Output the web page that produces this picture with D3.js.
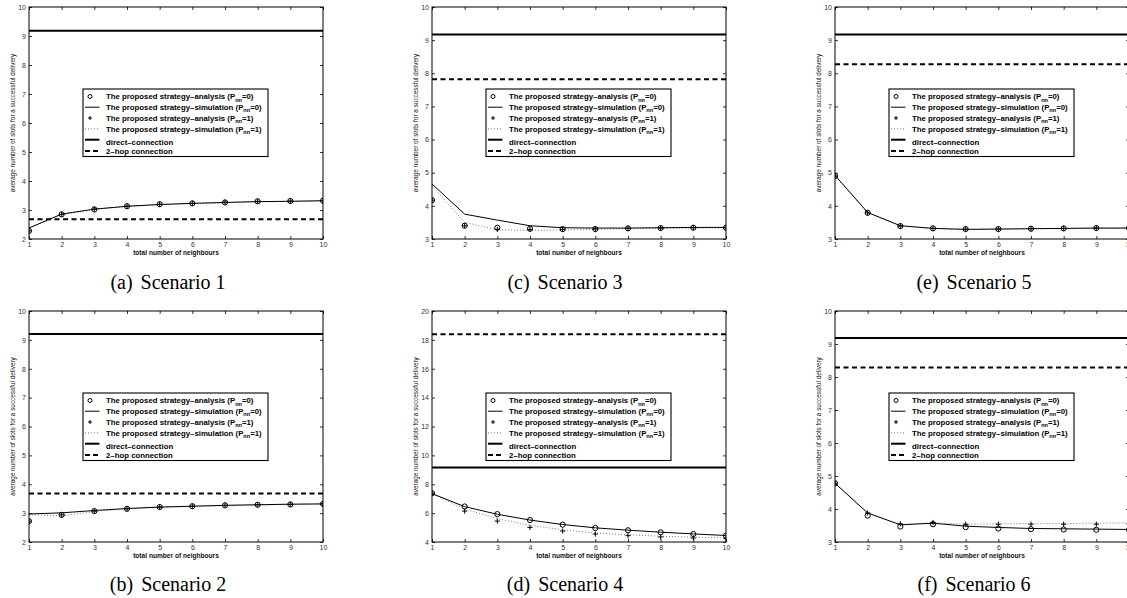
<!DOCTYPE html>
<html><head><meta charset="utf-8">
<script src="https://cdn.jsdelivr.net/npm/d3@7"></script>
<style>
html,body{margin:0;padding:0;background:#fff;}
svg{display:block;}
</style></head>
<body>
<svg id="chart" width="1127" height="598"></svg>
<script>
// ---------- data ----------
const neighbours = [1, 2, 3, 4, 5, 6, 7, 8, 9, 10];
const captions = ["(a)", "(b)", "(c)", "(d)", "(e)", "(f)"];
const scenarioNames = ["Scenario 1", "Scenario 2", "Scenario 3", "Scenario 4", "Scenario 5", "Scenario 6"];
const yDomains = [[2, 10], [2, 10], [3, 10], [4, 20], [3, 10], [3, 10]];
const yTickSteps = [1, 1, 1, 2, 1, 1];
const directConnection = [9.18, 9.20, 9.17, 9.16, 9.17, 9.18];
const twoHopConnection = [2.68, 3.68, 7.82, 18.39, 8.27, 8.29];

const analysisP0 = [
  [2.28, 2.85, 3.02, 3.13, 3.20, 3.23, 3.26, 3.30, 3.31, 3.32],
  [2.72, 2.94, 3.07, 3.15, 3.21, 3.24, 3.27, 3.29, 3.30, 3.32],
  [4.17, 3.40, 3.34, 3.31, 3.30, 3.30, 3.32, 3.33, 3.34, 3.34],
  [7.38, 6.46, 5.93, 5.52, 5.20, 4.97, 4.81, 4.67, 4.55, 4.44],
  [4.90, 3.79, 3.39, 3.32, 3.30, 3.30, 3.31, 3.32, 3.33, 3.33],
  [4.78, 3.80, 3.47, 3.54, 3.45, 3.41, 3.39, 3.38, 3.37, 3.37]
];
const simulationP0 = [
  [2.38, 2.86, 3.03, 3.13, 3.19, 3.23, 3.26, 3.29, 3.30, 3.32],
  [2.97, 3.01, 3.09, 3.16, 3.21, 3.24, 3.27, 3.29, 3.31, 3.32],
  [4.66, 3.75, 3.57, 3.40, 3.34, 3.33, 3.33, 3.34, 3.35, 3.35],
  [7.35, 6.45, 5.92, 5.52, 5.21, 4.98, 4.82, 4.68, 4.56, 4.45],
  [4.92, 3.80, 3.40, 3.32, 3.29, 3.30, 3.31, 3.32, 3.33, 3.33],
  [4.78, 3.88, 3.52, 3.57, 3.48, 3.44, 3.41, 3.40, 3.39, 3.38]
];
const analysisP1 = [
  [2.28, 2.85, 3.03, 3.13, 3.20, 3.23, 3.27, 3.30, 3.31, 3.32],
  [2.72, 2.94, 3.07, 3.15, 3.21, 3.24, 3.27, 3.29, 3.30, 3.32],
  [4.17, 3.40, 3.29, 3.29, 3.29, 3.30, 3.32, 3.33, 3.34, 3.34],
  [7.38, 6.14, 5.45, 5.01, 4.76, 4.55, 4.44, 4.35, 4.28, 4.23],
  [4.90, 3.79, 3.39, 3.32, 3.30, 3.30, 3.31, 3.32, 3.33, 3.33],
  [4.78, 3.88, 3.55, 3.59, 3.54, 3.54, 3.54, 3.54, 3.54, 3.55]
];
const simulationP1 = [
  [2.37, 2.84, 3.02, 3.12, 3.18, 3.22, 3.25, 3.28, 3.30, 3.31],
  [2.95, 2.90, 3.06, 3.14, 3.20, 3.23, 3.26, 3.28, 3.30, 3.31],
  [4.60, 3.50, 3.28, 3.26, 3.27, 3.29, 3.31, 3.32, 3.33, 3.34],
  [7.35, 6.28, 5.62, 5.15, 4.85, 4.62, 4.50, 4.40, 4.33, 4.28],
  [4.92, 3.80, 3.40, 3.32, 3.29, 3.30, 3.31, 3.32, 3.33, 3.33],
  [4.78, 3.88, 3.53, 3.58, 3.54, 3.55, 3.56, 3.56, 3.57, 3.58]
];
const legendMain = [
  ["The proposed strategy\u2013analysis (P", "nn", "=0)"],
  ["The proposed strategy\u2013simulation (P", "nn", "=0)"],
  ["The proposed strategy\u2013analysis (P", "nn", "=1)"],
  ["The proposed strategy\u2013simulation (P", "nn", "=1)"],
  ["direct\u2013connection", "", ""],
  ["2\u2013hop connection", "", ""]
];
const legendKinds = ["circle", "solid", "plus", "dotted", "thick", "dashed"];
const xLabel = "total number of neighbours";
const yLabel = "average number of slots for a successful delivery";

// ---------- layout ----------
const colLeft = [29, 432, 835];
const rowTop = [7, 311];
const rowH = [232, 231];
const W = 294;
const panelCol = [0, 0, 1, 1, 2, 2];
const panelRow = [0, 1, 0, 1, 0, 1];
const captionX = [168, 565, 974];
const captionY = [289, 591];

const svg = d3.select("#chart");
svg.append("rect").attr("width", 1127).attr("height", 598).attr("fill", "#fff");

const sans = "Liberation Sans, Arial, Helvetica, sans-serif";

function plusPath(cx, cy, s) {
  return `M${cx - s},${cy}H${cx + s}M${cx},${cy - s}V${cy + s}`;
}

captions.forEach((cap, i) => {
  const c = panelCol[i], r = panelRow[i];
  const H = rowH[r];
  const g = svg.append("g").attr("transform", `translate(${colLeft[c]},${rowTop[r]})`);
  const x = d3.scaleLinear().domain([1, 10]).range([0, W]);
  const y = d3.scaleLinear().domain(yDomains[i]).range([H, 0]);
  const yt = d3.range(yDomains[i][0], yDomains[i][1] + 0.001, yTickSteps[i]);

  const clipId = "clip" + i;
  g.append("clipPath").attr("id", clipId).append("rect").attr("width", W).attr("height", H);

  // axes (inward ticks, MATLAB style)
  const axB = g.append("g").attr("transform", `translate(0,${H})`)
    .call(d3.axisBottom(x).tickValues(neighbours).tickSizeInner(-3).tickSizeOuter(0).tickPadding(3).tickFormat(d3.format("d")));
  const axL = g.append("g")
    .call(d3.axisLeft(y).tickValues(yt).tickSizeInner(-3).tickSizeOuter(0).tickPadding(3).tickFormat(d3.format("d")));
  const axT = g.append("g")
    .call(d3.axisTop(x).tickValues(neighbours).tickSizeInner(-3).tickSizeOuter(0).tickFormat(""));
  const axR = g.append("g").attr("transform", `translate(${W},0)`)
    .call(d3.axisRight(y).tickValues(yt).tickSizeInner(-3).tickSizeOuter(0).tickFormat(""));
  [axB, axL, axT, axR].forEach(a => {
    a.select(".domain").remove();
    a.selectAll("line").attr("stroke", "#000").attr("stroke-width", 0.8);
    a.selectAll("text").attr("font-family", sans).attr("font-size", 7).attr("fill", "#333");
  });

  const plot = g.append("g").attr("clip-path", `url(#${clipId})`);
  const line = d3.line().x((d, k) => x(neighbours[k])).y(d => y(d));

  // reference lines
  plot.append("line").attr("x1", 0).attr("x2", W)
    .attr("y1", y(directConnection[i])).attr("y2", y(directConnection[i]))
    .attr("stroke", "#000").attr("stroke-width", 2);
  plot.append("line").attr("x1", 0).attr("x2", W)
    .attr("y1", y(twoHopConnection[i])).attr("y2", y(twoHopConnection[i]))
    .attr("stroke", "#000").attr("stroke-width", 2).attr("stroke-dasharray", "5,3.5");

  // simulation curves
  plot.append("path").attr("d", line(simulationP1[i])).attr("fill", "none")
    .attr("stroke", "#777").attr("stroke-width", 1).attr("stroke-dasharray", "1,2");
  plot.append("path").attr("d", line(simulationP0[i])).attr("fill", "none")
    .attr("stroke", "#000").attr("stroke-width", 1);

  // analysis markers
  plot.selectAll(".ana0").data(analysisP0[i]).enter().append("circle")
    .attr("cx", (d, k) => x(neighbours[k])).attr("cy", d => y(d)).attr("r", 2.6)
    .attr("fill", "none").attr("stroke", "#000").attr("stroke-width", 1);
  plot.selectAll(".ana1").data(analysisP1[i]).enter().append("path")
    .attr("d", (d, k) => plusPath(x(neighbours[k]), y(d), 2.6))
    .attr("stroke", "#000").attr("stroke-width", 1);

  // box
  g.append("rect").attr("width", W).attr("height", H).attr("fill", "none")
    .attr("stroke", "#000").attr("stroke-width", 1);

  // axis labels
  g.append("text").attr("x", W / 2).attr("y", H + 16).attr("text-anchor", "middle")
    .attr("font-family", sans).attr("font-size", 6.6).attr("font-weight", "bold").attr("fill", "#111")
    .text(xLabel);
  g.append("text").attr("transform", `translate(-14,${H / 2}) rotate(-90)`).attr("text-anchor", "middle")
    .attr("font-family", sans).attr("font-size", 6.4).attr("fill", "#111")
    .text(yLabel);

  // legend
  const lg = g.append("g").attr("transform", "translate(54,82)");
  lg.append("rect").attr("width", 185).attr("height", 67.5).attr("fill", "#fff")
    .attr("stroke", "#000").attr("stroke-width", 1.1);
  const rowY = [7.5, 18.2, 29, 39.8, 53.2, 62];
  legendMain.forEach((parts, k) => {
    const cy = rowY[k];
    const kind = legendKinds[k];
    if (kind === "circle") {
      lg.append("circle").attr("cx", 7).attr("cy", cy).attr("r", 2).attr("fill", "none").attr("stroke", "#000").attr("stroke-width", 1);
    } else if (kind === "plus") {
      lg.append("path").attr("d", plusPath(7, cy, 2)).attr("stroke", "#000").attr("stroke-width", 1);
    } else {
      const ly = kind === "thick" ? cy - 2.5 : cy;
      lg.append("line").attr("x1", 2).attr("x2", 16.5).attr("y1", ly).attr("y2", ly)
        .attr("stroke", kind === "dotted" ? "#777" : "#000")
        .attr("stroke-width", kind === "thick" || kind === "dashed" ? 2 : 1)
        .attr("stroke-dasharray", kind === "dotted" ? "1,2" : kind === "dashed" ? "5,3" : null);
    }
    const t = lg.append("text").attr("x", 23).attr("y", cy + 2.8)
      .attr("font-family", sans).attr("font-size", 7.8).attr("font-weight", "bold").attr("fill", "#000");
    t.append("tspan").text(parts[0]);
    if (parts[1]) {
      t.append("tspan").attr("dy", 2.4).attr("font-size", 5.6).text(parts[1]);
      t.append("tspan").attr("dy", -2.4).text(parts[2]);
    }
  });

  // caption
  const ct = svg.append("text").attr("x", captionX[c]).attr("y", captionY[r]).attr("text-anchor", "middle")
    .attr("font-family", "Liberation Serif, Times New Roman, serif").attr("font-size", 20).attr("fill", "#000");
  ct.append("tspan").text(cap);
  ct.append("tspan").attr("dx", 8).text(scenarioNames[i]);
});
</script>
</body></html>
